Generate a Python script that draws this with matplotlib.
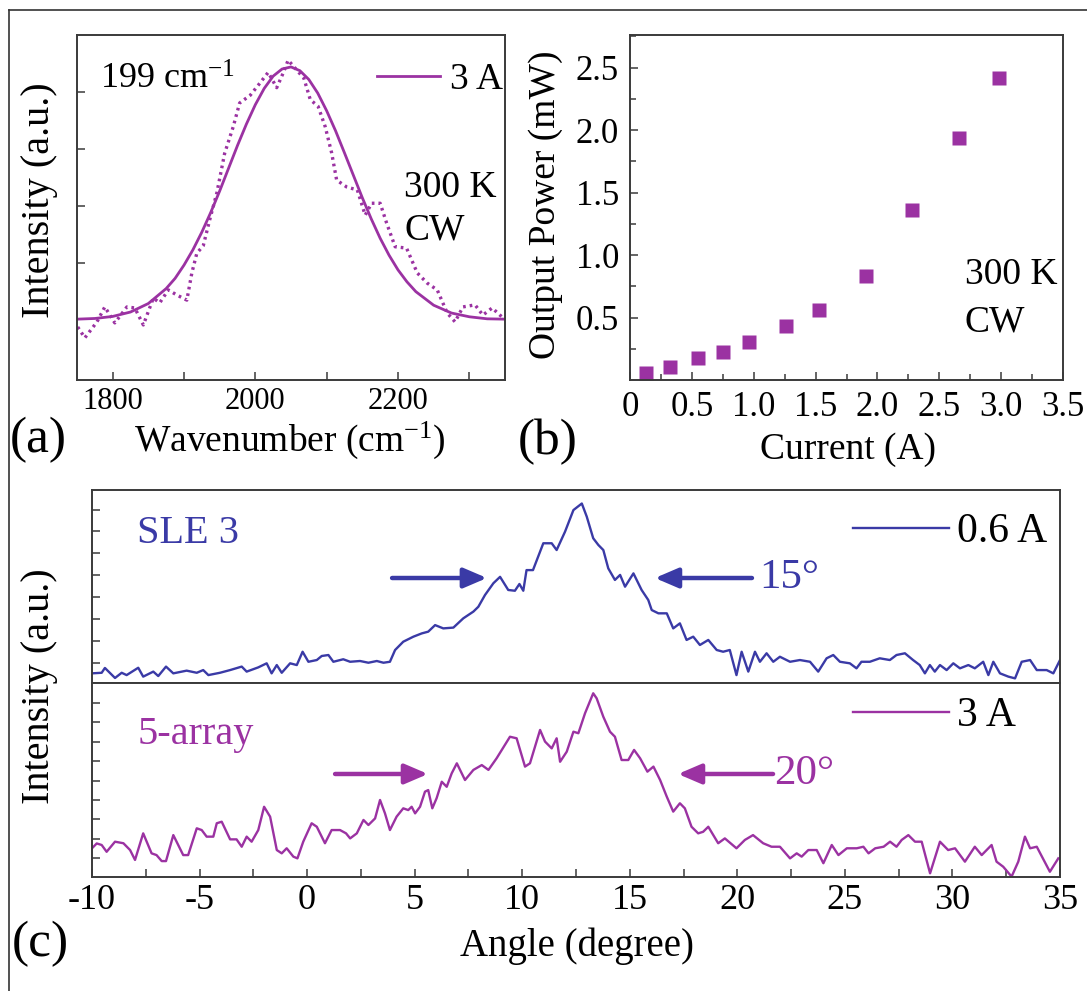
import matplotlib
matplotlib.use("Agg")
from matplotlib import pyplot as plt
from matplotlib.lines import Line2D
import numpy as np

plt.rcParams['font.family'] = ['Liberation Serif', 'DejaVu Serif']
plt.rcParams['mathtext.fontset'] = 'custom'
plt.rcParams['mathtext.rm'] = 'Liberation Serif'
plt.rcParams['mathtext.it'] = 'Liberation Serif:italic'
plt.rcParams['axes.unicode_minus'] = False

PURPLE = '#9B32A2'
BLUE = '#3A3AA6'
SPINE = '#3a3a3a'

# (a) spectrum at 3 A, measured (dotted) and gaussian fit (solid)
wn_meas = [1751, 1761, 1778, 1789, 1803, 1820, 1831, 1843, 1857, 1866, 1878, 1890,
           1904, 1911, 1918, 1927, 1936, 1946, 1957, 1969, 1978, 1993, 2007, 2018,
           2030, 2039, 2046, 2058, 2068, 2077, 2088, 2098, 2107, 2114, 2128, 2143,
           2154, 2163, 2175, 2184, 2196, 2212, 2227, 2241, 2255, 2269, 2280, 2291,
           2308, 2319, 2332, 2346]
int_meas = [0.141, 0.109, 0.156, 0.200, 0.153, 0.200, 0.197, 0.147, 0.226, 0.212, 0.250, 0.235,
            0.220, 0.300, 0.358, 0.380, 0.456, 0.535, 0.652, 0.730, 0.800, 0.823, 0.860, 0.890,
            0.845, 0.888, 0.926, 0.897, 0.873, 0.810, 0.790, 0.730, 0.653, 0.573, 0.553, 0.544,
            0.470, 0.505, 0.505, 0.447, 0.377, 0.373, 0.300, 0.270, 0.250, 0.182, 0.156, 0.200,
            0.206, 0.176, 0.197, 0.170]
wn_fit = [1750, 1775, 1800, 1825, 1850, 1875, 1887.5, 1900, 1912.5, 1925, 1937.5, 1950,
          1962.5, 1975, 1987.5, 2000, 2012.5, 2025, 2037.5, 2050, 2062.5, 2075, 2087.5,
          2100, 2112.5, 2125, 2137.5, 2150, 2162.5, 2175, 2187.5, 2200, 2212.5, 2225,
          2250, 2275, 2300, 2325, 2350]
int_fit = [0.164, 0.166, 0.172, 0.185, 0.210, 0.254, 0.284, 0.323, 0.368, 0.420, 0.478, 0.541,
           0.608, 0.675, 0.738, 0.795, 0.843, 0.879, 0.900, 0.906, 0.895, 0.869, 0.829,
           0.777, 0.718, 0.653, 0.587, 0.521, 0.459, 0.402, 0.352, 0.309, 0.274, 0.245,
           0.205, 0.182, 0.171, 0.165, 0.164]

# (b) L-I data
current = [0.13, 0.32, 0.55, 0.75, 0.96, 1.26, 1.53, 1.91, 2.28, 2.66, 2.98]
power = [0.053, 0.107, 0.179, 0.222, 0.302, 0.436, 0.561, 0.829, 1.358, 1.933, 2.414]

# (c) far field, SLE 3 at 0.6 A
ang_sle = [-10.0, -9.55, -9.4, -8.93, -8.62, -8.39, -7.85, -7.62, -7.15, -6.92, -6.56, -6.22,
           -5.6, -5.13, -4.83, -4.59, -4.05, -3.58, -3.04, -2.81, -2.27, -1.88, -1.65, -1.41,
           -1.18, -0.79, -0.48, -0.21, 0.06, 0.45, 0.68, 0.99, 1.22, 1.68, 2.0, 2.46, 2.85,
           3.24, 3.55, 3.85, 4.09, 4.47, 4.94, 5.33, 5.63, 5.95, 6.33, 6.8, 7.26, 7.73, 7.96,
           8.27, 8.66, 8.97, 9.35, 9.66, 9.87, 10.05, 10.2, 10.5, 10.98, 11.37, 11.6, 11.99,
           12.38, 12.77, 13.0, 13.3, 13.54, 13.77, 14.0, 14.31, 14.55, 14.78, 15.17, 15.55,
           15.86, 16.02, 16.33, 16.72, 17.02, 17.33, 17.64, 17.95, 18.26, 18.65, 19.04, 19.34,
           19.65, 19.96, 20.2, 20.51, 20.82, 21.05, 21.36, 21.67, 21.98, 22.45, 22.91, 23.38,
           23.76, 24.15, 24.46, 24.77, 25.23, 25.54, 25.77, 26.16, 26.62, 27.09, 27.4, 27.79,
           28.17, 28.48, 28.72, 28.95, 29.18, 29.42, 29.73, 30.04, 30.35, 30.74, 31.04, 31.43,
           31.67, 31.9, 32.21, 32.6, 32.91, 33.22, 33.61, 33.92, 34.38, 34.69, 35.0]
int_sle = [0.050, 0.053, 0.078, 0.026, 0.053, 0.041, 0.079, 0.033, 0.059, 0.036, 0.085, 0.050,
           0.064, 0.053, 0.067, 0.041, 0.053, 0.067, 0.085, 0.059, 0.081, 0.102, 0.050, 0.093,
           0.053, 0.102, 0.093, 0.162, 0.110, 0.119, 0.140, 0.145, 0.110, 0.123, 0.110, 0.114, 0.105,
           0.114, 0.105, 0.110, 0.171, 0.214, 0.240, 0.257, 0.266, 0.300, 0.283, 0.287, 0.335, 0.370, 0.395,
           0.456, 0.517, 0.550, 0.482, 0.478, 0.513, 0.478, 0.585, 0.585, 0.724, 0.724, 0.689, 0.784,
           0.896, 0.930, 0.862, 0.750, 0.715, 0.689, 0.594, 0.534, 0.560, 0.499, 0.568, 0.482,
           0.430, 0.378, 0.361, 0.361, 0.283, 0.309, 0.223, 0.240, 0.197, 0.223, 0.171, 0.162,
           0.171, 0.041, 0.162, 0.059, 0.162, 0.110, 0.154, 0.110, 0.136, 0.110, 0.119, 0.110,
           0.059, 0.128, 0.145, 0.110, 0.102, 0.076, 0.110, 0.110, 0.128, 0.119, 0.145, 0.154,
           0.119, 0.093, 0.050, 0.093, 0.059, 0.093, 0.067, 0.102, 0.076, 0.093, 0.076, 0.110,
           0.041, 0.110, 0.050, 0.033, 0.024, 0.110, 0.119, 0.067, 0.067, 0.050, 0.119]

# (c) far field, 5-array at 3 A
ang_arr = [-10.0, -9.78, -9.55, -9.32, -8.93, -8.54, -8.23, -8.0, -7.62, -7.23, -7.0, -6.76,
           -6.56, -6.22, -5.76, -5.53, -5.13, -4.9, -4.67, -4.36, -4.2, -3.97, -3.58, -3.28,
           -3.04, -2.81, -2.58, -2.27, -2.0, -1.72, -1.41, -1.18, -0.95, -0.64, -0.45, -0.18,
           0.21, 0.45, 0.83, 1.14, 1.53, 1.81, 2.0, 2.31, 2.62, 2.85, 3.16, 3.39, 3.62, 3.85,
           4.16, 4.47, 4.7, 4.86, 5.02, 5.25, 5.48, 5.63, 5.82, 6.02, 6.26, 6.49, 6.72, 6.96,
           7.34, 7.73, 8.12, 8.43, 8.81, 9.43, 9.74, 10.13, 10.36, 10.83, 11.06, 11.37, 11.6,
           11.76, 12.07, 12.38, 12.61, 12.92, 13.3, 13.46, 13.77, 14.08, 14.31, 14.62, 14.93,
           15.2, 15.48, 15.82, 16.1, 16.41, 16.72, 17.02, 17.33, 17.56, 17.87, 18.18, 18.41,
           18.65, 19.11, 19.42, 19.96, 20.35, 20.73, 21.2, 21.59, 21.98, 22.45, 22.76, 22.99,
           23.3, 23.69, 24.0, 24.39, 24.7, 25.09, 25.55, 25.86, 26.1, 26.41, 26.8, 27.1, 27.4,
           27.64, 27.95, 28.26, 28.57, 28.96, 29.42, 29.8, 30.12, 30.58, 31.04, 31.36, 31.82,
           32.05, 32.36, 32.75, 33.06, 33.37, 33.61, 33.92, 34.53, 34.92]
int_arr = [0.148, 0.173, 0.165, 0.130, 0.182, 0.174, 0.139, 0.088, 0.225, 0.122, 0.113, 0.082,
           0.082, 0.216, 0.113, 0.113, 0.251, 0.242, 0.208, 0.208, 0.277, 0.285, 0.194, 0.194,
           0.156, 0.208, 0.182, 0.242, 0.362, 0.311, 0.139, 0.122, 0.148, 0.105, 0.096, 0.182,
           0.277, 0.259, 0.174, 0.242, 0.242, 0.225, 0.199, 0.225, 0.294, 0.268, 0.302, 0.397, 0.328, 0.242,
           0.311, 0.354, 0.345, 0.362, 0.328, 0.362, 0.440, 0.448, 0.354, 0.406, 0.491, 0.465, 0.534, 0.586,
           0.500, 0.552, 0.577, 0.552, 0.612, 0.723, 0.715, 0.569, 0.586, 0.758, 0.698, 0.663, 0.715,
           0.594, 0.646, 0.749, 0.741, 0.844, 0.947, 0.921, 0.826, 0.749, 0.723, 0.603, 0.603,
           0.655, 0.612, 0.543, 0.569, 0.500, 0.414, 0.337, 0.380, 0.354, 0.259, 0.225, 0.233,
           0.259, 0.174, 0.199, 0.148, 0.191, 0.216, 0.174, 0.156, 0.156, 0.096, 0.122, 0.105,
           0.139, 0.139, 0.071, 0.165, 0.113, 0.148, 0.148, 0.156, 0.122, 0.148, 0.156, 0.182, 0.156,
           0.191, 0.216, 0.182, 0.182, 0.019, 0.182, 0.139, 0.148, 0.079, 0.156, 0.113, 0.165,
           0.079, 0.053, 0.002, 0.079, 0.208, 0.148, 0.156, 0.027, 0.096]

W, H = 1087, 991
fig = plt.figure(figsize=(W / 100, H / 100), dpi=100)


def rect(l, t, r, b):
    return [l / W, 1 - b / H, (r - l) / W, (b - t) / H]


def ftext(x, y, s, **kw):
    fig.text(x / W, 1 - y / H, s, **kw)


def style(ax):
    for sp in ax.spines.values():
        sp.set_color(SPINE)
        sp.set_linewidth(1.4)
    ax.tick_params(which='both', direction='in', color=SPINE, width=1.1,
                   top=False, right=False)
    ax.tick_params(which='major', length=6)
    ax.tick_params(which='minor', length=4)


# ---------- (a) ----------
ax_a = fig.add_axes(rect(77, 35, 505, 380))
style(ax_a)
ax_a.plot(wn_meas, int_meas, color=PURPLE, lw=2.4, ls=(0, (0.8, 1.2)))
ax_a.plot(wn_fit, int_fit, color=PURPLE, lw=2.0, label='3 A')
ax_a.set_xlim(1750, 2350)
ax_a.set_ylim(-0.015, 1.0)
ax_a.set_xticks([1800, 2000, 2200])
ax_a.set_xticks([1900, 2100, 2300], minor=True)
ax_a.set_yticks([0.33, 0.497, 0.665, 0.833])
ax_a.set_yticklabels([])
ax_a.tick_params(axis='x', which='both', length=6)
ax_a.tick_params(axis='x', labelsize=22, pad=5)
ax_a.legend(loc='center left', bbox_to_anchor=(0.70, 0.87), frameon=False,
            fontsize=27, handlelength=1.7, handletextpad=0.25,
            borderpad=0, borderaxespad=0)
ftext(100, 80, '199 cm$^{-1}$', fontsize=26, va='center', ha='left')
ftext(404, 188, '300 K', fontsize=27, va='center', ha='left')
ftext(404, 230, 'CW', fontsize=27, va='center', ha='left')
ftext(40, 200, 'Intensity (a.u.)', fontsize=29, rotation=90, va='center', ha='center')
ftext(290, 440, 'Wavenumber (cm$^{-1}$)', fontsize=27, va='center', ha='center')
ftext(38, 440, '(a)', fontsize=37, va='center', ha='center')

# ---------- (b) ----------
ax_b = fig.add_axes(rect(630, 35, 1063, 380))
style(ax_b)
ax_b.plot(current, power, ls='none', marker='s', ms=10, color=PURPLE, mec='none')
ax_b.set_xlim(0, 3.5)
ax_b.set_ylim(0, 2.76)
ax_b.set_xticks(np.arange(0, 3.51, 0.5))
ax_b.set_xticklabels(['0', '0.5', '1.0', '1.5', '2.0', '2.5', '3.0', '3.5'])
ax_b.set_xticks(np.arange(0.25, 3.5, 0.5), minor=True)
ax_b.set_yticks([0.5, 1.0, 1.5, 2.0, 2.5])
ax_b.set_yticks(np.arange(0.25, 2.76, 0.5), minor=True)
ax_b.tick_params(labelsize=25, pad=8)
ftext(965, 275, '300 K', fontsize=27, va='center', ha='left')
ftext(965, 322, 'CW', fontsize=27, va='center', ha='left')
ftext(546, 205, 'Output Power (mW)', fontsize=27, rotation=90, va='center', ha='center')
ftext(848, 450, 'Current (A)', fontsize=27, va='center', ha='center')
ftext(548, 442, '(b)', fontsize=37, va='center', ha='center')

# ---------- (c) ----------
ax_c1 = fig.add_axes(rect(92, 490, 1060, 683))
ax_c2 = fig.add_axes(rect(92, 683, 1060, 877))
for ax in (ax_c1, ax_c2):
    style(ax)
    ax.set_xlim(-10, 35)
    ax.set_ylim(0, 1)
    ax.set_yticklabels([])
ax_c1.plot(ang_sle, int_sle, color=BLUE, lw=1.7, label='0.6 A')
ax_c2.plot(ang_arr, int_arr, color=PURPLE, lw=1.7, label='3 A')
ax_c1.set_yticks(np.arange(0.104, 0.95, 0.1135))
ax_c2.set_yticks(np.arange(0.098, 0.95, 0.0998))
ax_c1.tick_params(axis='x', which='both', bottom=False, labelbottom=False)
ax_c2.set_xticks(np.arange(-10, 35.1, 5))
ax_c2.set_xticks(np.arange(-7.5, 35, 5), minor=True)
ax_c2.tick_params(axis='x', labelsize=26, pad=5)
ax_c2.tick_params(axis='x', which='both', length=6)

ax_c1.legend(loc='center left', bbox_to_anchor=(0.786, 0.782), frameon=False,
             fontsize=30, handlelength=2.3, handletextpad=0.2,
             borderpad=0, borderaxespad=0)
ax_c2.legend(loc='center left', bbox_to_anchor=(0.786, 0.83), frameon=False,
             fontsize=30, handlelength=2.3, handletextpad=0.2,
             borderpad=0, borderaxespad=0)

arrow_kw = dict(arrowstyle='-|>,head_length=0.7,head_width=0.3', lw=3.2,
                shrinkA=0, shrinkB=0, mutation_scale=20)
ax_c1.annotate('', xy=(8.36, 0.544), xytext=(3.95, 0.544),
               arrowprops=dict(color=BLUE, **arrow_kw))
ax_c1.annotate('', xy=(16.17, 0.544), xytext=(20.68, 0.544),
               arrowprops=dict(color=BLUE, **arrow_kw))
ax_c1.text(21.0, 0.544, '15°', color=BLUE, fontsize=31, va='center', ha='left')
ax_c1.text(-7.9, 0.777, 'SLE 3', color=BLUE, fontsize=29, va='center', ha='left')

ax_c2.annotate('', xy=(5.62, 0.531), xytext=(1.30, 0.531),
               arrowprops=dict(color=PURPLE, **arrow_kw))
ax_c2.annotate('', xy=(17.24, 0.531), xytext=(21.66, 0.531),
               arrowprops=dict(color=PURPLE, **arrow_kw))
ax_c2.text(21.7, 0.531, '20°', color=PURPLE, fontsize=31, va='center', ha='left')
ax_c2.text(-7.9, 0.732, '5-array', color=PURPLE, fontsize=29, va='center', ha='left')

ftext(40, 686, 'Intensity (a.u.)', fontsize=29, rotation=90, va='center', ha='center')
ftext(577, 946, 'Angle (degree)', fontsize=28, va='center', ha='center')
ftext(40, 944, '(c)', fontsize=37, va='center', ha='center')

# outer frame (left and top edges)
fig.add_artist(Line2D([9 / W, 9 / W], [0, 1 - 10 / H], color='#333333', lw=1.2))
fig.add_artist(Line2D([9 / W, 1], [1 - 10 / H, 1 - 10 / H], color='#333333', lw=1.2))

fig.savefig("out.png", dpi=100)
